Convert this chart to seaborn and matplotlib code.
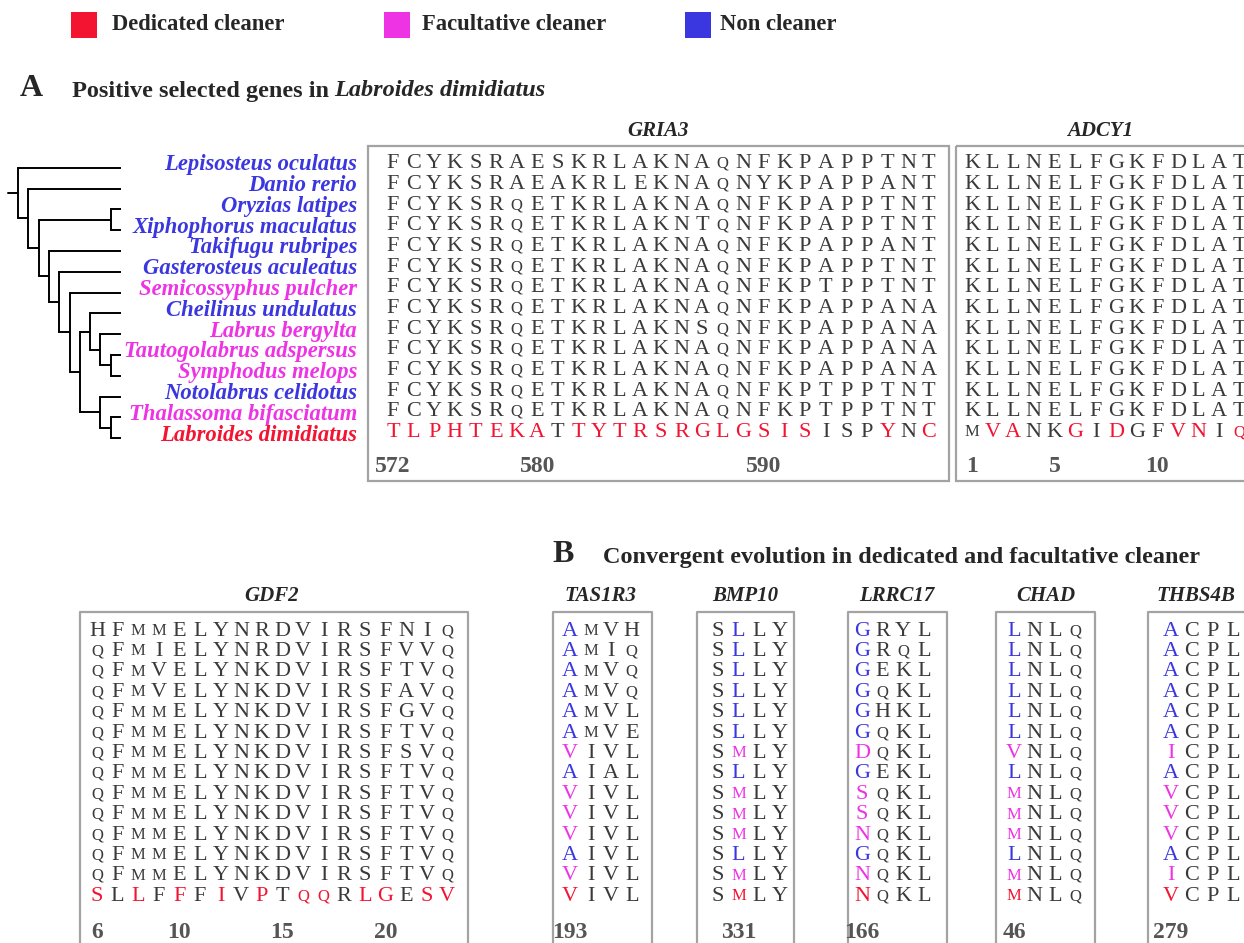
import matplotlib
matplotlib.use("Agg")
import matplotlib.pyplot as plt
from matplotlib.patches import Rectangle
import seaborn as sns

sns.set_theme(style="white")
plt.rcParams["font.family"] = ["Liberation Serif", "DejaVu Serif"]

# %% data
species = [
    "Lepisosteus oculatus", "Danio rerio", "Oryzias latipes", "Xiphophorus maculatus",
    "Takifugu rubripes", "Gasterosteus aculeatus", "Semicossyphus pulcher",
    "Cheilinus undulatus", "Labrus bergylta", "Tautogolabrus adspersus",
    "Symphodus melops", "Notolabrus celidotus", "Thalassoma bifasciatum",
    "Labroides dimidiatus",
]
groups = ["Non cleaner"] * 6 + [
    "Facultative cleaner", "Non cleaner", "Facultative cleaner", "Facultative cleaner",
    "Facultative cleaner", "Non cleaner", "Facultative cleaner", "Dedicated cleaner",
]
legend_labels = ["Dedicated cleaner", "Facultative cleaner", "Non cleaner"]
palette = {"Dedicated cleaner": "#f31432", "Facultative cleaner": "#ee33e4",
           "Non cleaner": "#3b37e0"}

# cladogram, leaves are species indices
tree = (0, (1, ((2, 3), (4, (5, (6, ((7, (8, (9, 10))), (11, (12, 13)))))))))

gria3 = [
    "FCYKSRAESKRLAKNAQNFKPAPPTNT",
    "FCYKSRAEAKRLEKNAQNYKPAPPANT",
    "FCYKSRQETKRLAKNAQNFKPAPPTNT",
    "FCYKSRQETKRLAKNTQNFKPAPPTNT",
    "FCYKSRQETKRLAKNAQNFKPAPPANT",
    "FCYKSRQETKRLAKNAQNFKPAPPTNT",
    "FCYKSRQETKRLAKNAQNFKPTPPTNT",
    "FCYKSRQETKRLAKNAQNFKPAPPANA",
    "FCYKSRQETKRLAKNSQNFKPAPPANA",
    "FCYKSRQETKRLAKNAQNFKPAPPANA",
    "FCYKSRQETKRLAKNAQNFKPAPPANA",
    "FCYKSRQETKRLAKNAQNFKPTPPTNT",
    "FCYKSRQETKRLAKNAQNFKPTPPTNT",
    "TLPHTEKATTYTRSRGLGSISISPYNC",
]
gria3_red = "111111110111111111111000101"
gria3_ticks = ["572", "580", "590"]
gria3_tick_cols = [0, 7, 18]

adcy1 = ["KLLNELFGKFDLAT"] * 13 + ["MVANKGIDGFVNIQ"]
adcy1_red = "01100101001101"
adcy1_ticks = ["1", "5", "10"]
adcy1_tick_cols = [0, 4, 9]

gdf2 = [
    "HFMMELYNRDVIRSFNIQ",
    "QFMIELYNRDVIRSFVVQ",
    "QFMVELYNKDVIRSFTVQ",
    "QFMVELYNKDVIRSFAVQ",
    "QFMMELYNKDVIRSFGVQ",
    "QFMMELYNKDVIRSFTVQ",
    "QFMMELYNKDVIRSFSVQ",
] + ["QFMMELYNKDVIRSFTVQ"] * 6 + ["SLLFFFIVPTQQRLGESV"]
gdf2_red = "101010101011011011"
gdf2_ticks = ["6", "10", "15", "20"]
gdf2_tick_cols = [0, 4, 9, 14]

tas1r3 = ["AMVH", "AMIQ", "AMVQ", "AMVQ", "AMVL", "AMVE", "VIVL",
          "AIAL", "VIVL", "VIVL", "VIVL", "AIVL", "VIVL", "VIVL"]
bmp10 = ["SLLY"] * 6 + ["SMLY", "SLLY", "SMLY", "SMLY", "SMLY", "SLLY", "SMLY", "SMLY"]
lrrc17 = ["GRYL", "GRQL", "GEKL", "GQKL", "GHKL", "GQKL", "DQKL",
          "GEKL", "SQKL", "SQKL", "NQKL", "GQKL", "NQKL", "NQKL"]
chad = [c + "NLQ" for c in "LLLLLLVLMMMLMM"]
thbs4b = [c + "CPL" for c in "AAAAAAIAVVVAIV"]
conv_genes = ["TAS1R3", "BMP10", "LRRC17", "CHAD", "THBS4B"]
conv_seqs = [tas1r3, bmp10, lrrc17, chad, thbs4b]
conv_site = ["193", "331", "166", "46", "279"]
conv_col = [0, 1, 0, 0, 0]

# %% layout / style
GRAY = "#3a3a3a"
NUM_GRAY = "#555555"
BOX = "#a3a3a3"
FS = 16
SMALL = {"Q": 12, "M": 12}
DX = 20.6
TITLE_FS = 17.5

fig = plt.figure(figsize=(12.44, 9.43), dpi=100)
ax = fig.add_axes([0, 0, 1, 1])
ax.set_xlim(0, 1244)
ax.set_ylim(943, 0)
ax.axis("off")


def letters(seqs, x0, y0, dy, color_of):
    for r, seq in enumerate(seqs):
        for c, ch in enumerate(seq):
            ax.text(x0 + c * DX, y0 + r * dy, ch, ha="center", va="center",
                    fontsize=SMALL.get(ch, FS), color=color_of(r, c))


def ticks(labels, cols, x0, y):
    for lab, c in zip(labels, cols):
        ax.text(x0 + c * DX, y, lab, ha="center", va="center", fontsize=17,
                fontweight="bold", color=NUM_GRAY)


def red_last(mask):
    return lambda r, c: palette["Dedicated cleaner"] if (r == 13 and mask[c] == "1") else GRAY


# legend
sns.scatterplot(x=[84, 397, 698], y=[25, 25, 25], hue=legend_labels, palette=palette,
                marker="s", s=330, linewidth=0, legend=False, ax=ax)
for lab, x in zip(legend_labels, [112, 422, 720]):
    ax.text(x, 24, lab, fontsize=16.3, fontweight="bold", va="center")

# panel A
ax.text(20, 88, "A", fontsize=23, fontweight="bold", va="center")
t1 = ax.text(72, 91, "Positive selected genes in", fontsize=TITLE_FS,
             fontweight="bold", va="center")
fig.canvas.draw()
bb = t1.get_window_extent(renderer=fig.canvas.get_renderer())
x_end = ax.transData.inverted().transform((bb.x1, bb.y0))[0]
ax.text(x_end + 5, 91, "Labroides dimidiatus", fontsize=TITLE_FS, fontweight="bold",
        fontstyle="italic", va="center")

ROW0, DY = 167.7, 20.8
TIP, STEP = 121, 10.3


def draw_tree(node):
    if isinstance(node, int):
        return ROW0 + node * DY, 0
    (ya, ha), (yb, hb) = draw_tree(node[0]), draw_tree(node[1])
    h = max(ha, hb) + 1
    x = TIP - STEP * h
    for yc, hc in ((ya, ha), (yb, hb)):
        ax.plot([x, TIP - STEP * hc], [yc, yc], color="black", lw=1.4,
                solid_capstyle="butt")
    ax.plot([x, x], [ya, yb], color="black", lw=1.4, solid_capstyle="projecting")
    return (ya + yb) / 2, h


ry, rh = draw_tree(tree)
ax.plot([TIP - STEP * rh - 10, TIP - STEP * rh], [ry, ry], color="black", lw=1.4)

for i, (sp, g) in enumerate(zip(species, groups)):
    ax.text(357, ROW0 + i * DY - 3, sp, ha="right", va="center", fontsize=16.3,
            fontweight="bold", fontstyle="italic", color=palette[g])

for x0, x1 in ((368, 949), (956, 1260)):
    ax.add_patch(Rectangle((x0, 146), x1 - x0, 335, fill=False, ec=BOX, lw=1.6))
ax.text(658, 131, "GRIA3", ha="center", va="center", fontsize=15,
        fontweight="bold", fontstyle="italic")
ax.text(1100, 131, "ADCY1", ha="center", va="center", fontsize=15,
        fontweight="bold", fontstyle="italic")
letters(gria3, 393, 164, 20.65, red_last(gria3_red))
letters(adcy1, 972, 164, 20.65, red_last(adcy1_red))
ticks(gria3_ticks, gria3_tick_cols, 393, 467)
ticks(adcy1_ticks, adcy1_tick_cols, 972, 467)

# panel B
ax.text(552, 554, "B", fontsize=23, fontweight="bold", va="center")
ax.text(603, 558, "Convergent evolution in dedicated and facultative cleaner",
        fontsize=TITLE_FS, fontweight="bold", va="center")

BTOP, BROW, BDY = 612, 631, 20.4


def open_box(x0, x1):
    ax.plot([x0, x0, x1, x1], [960, BTOP, BTOP, 960], color=BOX, lw=1.6)


open_box(80, 468)
ax.text(272, 596, "GDF2", ha="center", va="center", fontsize=15,
        fontweight="bold", fontstyle="italic")
letters(gdf2, 97, BROW, BDY, red_last(gdf2_red))
ticks(gdf2_ticks, gdf2_tick_cols, 97, 932)

box_x = [(553, 652), (697, 794), (848, 947), (996, 1095), (1148, 1260)]
col0_x = [570, 718, 862, 1014, 1171]
title_x = [600, 745, 897, 1046, 1196]
for gene, seqs, site, hc, (x0, x1), cx, tx in zip(conv_genes, conv_seqs, conv_site,
                                                   conv_col, box_x, col0_x, title_x):
    open_box(x0, x1)
    ax.text(tx, 596, gene, ha="center", va="center", fontsize=15,
            fontweight="bold", fontstyle="italic")
    letters(seqs, cx, BROW, BDY,
            lambda r, c, hc=hc: palette[groups[r]] if c == hc else GRAY)
    ticks([site], [hc], cx, 932)

fig.savefig("out.png", dpi=100)
